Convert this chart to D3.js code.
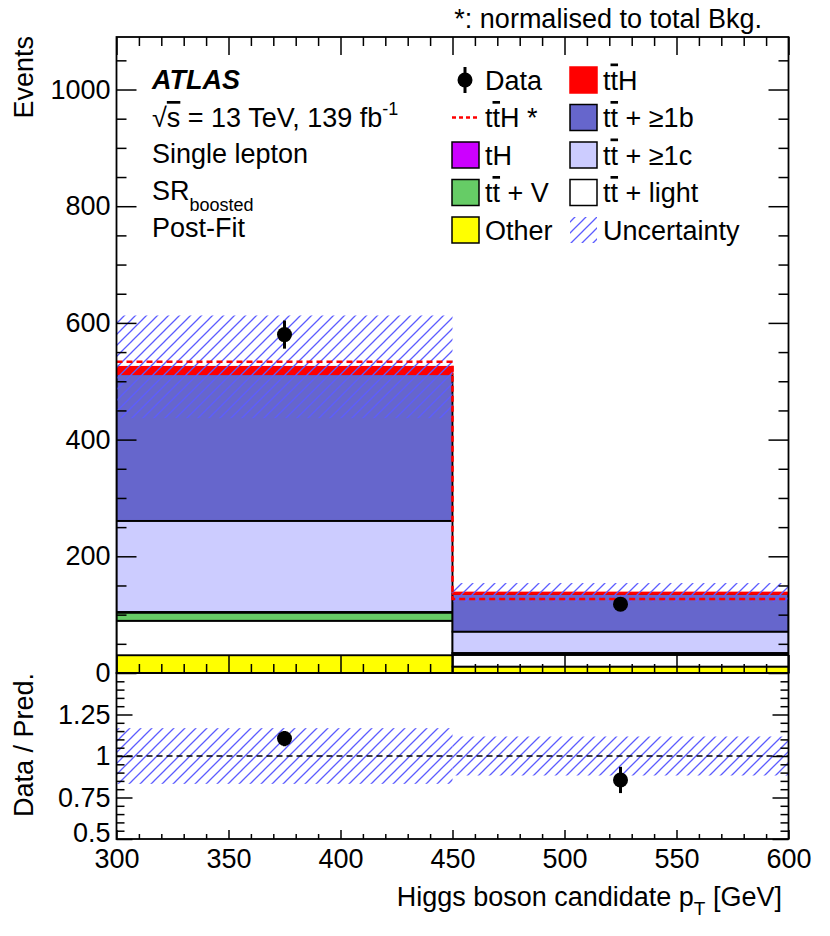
<!DOCTYPE html>
<html><head><meta charset="utf-8">
<script src="https://cdn.jsdelivr.net/npm/d3@7"></script>
<style>
body{margin:0;background:#fff}
svg{display:block}
text{font-family:"Liberation Sans",Arial,Helvetica,sans-serif;fill:#000}
</style>
</head><body>
<svg id="c" width="830" height="936"></svg>
<script>
// ---------------- data ----------------
const binEdges = [300, 450, 600];
const binCenters = [375, 525];
const other   = [30.5, 11];
const ttLight = [59, 20];
const ttV     = [14, 3];
const tH      = [1.2, 0.4];
const tt1c    = [156, 36.5];
const tt1b    = [251.5, 64.5];
const ttH     = [12.5, 2.5];
const ttHnorm = [533.5, 126.8];
const dataVals = [580, 118];
const dataErr  = [24.1, 10.9];
const uncert   = [88, 16.2];
const mainYTicks  = [0, 200, 400, 600, 800, 1000];
const ratioYTicks = [0.5, 0.75, 1, 1.25];
const xTicks      = [300, 350, 400, 450, 500, 550, 600];

const layerKeys   = ["other", "ttLight", "ttV", "tH", "tt1c", "tt1b", "ttH"];
const layerVals   = {other, ttLight, ttV, tH, tt1c, tt1b, ttH};
const layerFill   = {other:"#ffff00", ttLight:"#ffffff", ttV:"#66cc66", tH:"#cc00ff", tt1c:"#ccccff", tt1b:"#6666cc", ttH:"#ff0000"};
const layerStroke = {other:"#000", ttLight:"#000", ttV:"#000", tH:"#000", tt1c:"#000", tt1b:"#000", ttH:"#ff0000"};

// ---------------- layout ----------------
const svg = d3.select("#c");
const X0 = 116.5, X1 = 788.5, YT = 37, YM = 673, YB = 839;
const x  = d3.scaleLinear().domain([300, 600]).range([X0, X1]);
const y  = d3.scaleLinear().domain([0, 1090]).range([YM, YT]);
const yr = d3.scaleLinear().domain([0.5, 1.5]).range([YB, YM]);
const FONT = 27;

const defs = svg.append("defs");
const pat = defs.append("pattern").attr("id","hatch").attr("patternUnits","userSpaceOnUse")
  .attr("width",11).attr("height",11);
pat.append("path").attr("d","M-1,1 L1,-1 M0,11 L11,0 M10,12 L12,10")
  .attr("stroke","#5c5cff").attr("stroke-width",1.3);
defs.append("clipPath").attr("id","clipMain").append("rect")
  .attr("x",X0).attr("y",YT).attr("width",X1-X0).attr("height",YM-YT);
defs.append("clipPath").attr("id","clipRatio").append("rect")
  .attr("x",X0).attr("y",YM).attr("width",X1-X0).attr("height",YB-YM);

// ---------------- stack ----------------
const rows = binCenters.map((c,i) => {
  const r = {i};
  layerKeys.forEach(k => r[k] = layerVals[k][i]);
  return r;
});
const stacked = d3.stack().keys(layerKeys)(rows);
const pred = rows.map(r => d3.sum(layerKeys, k => r[k]));

const gMain = svg.append("g").attr("clip-path","url(#clipMain)");
stacked.forEach(layer => {
  gMain.selectAll(null).data(layer).enter().append("rect")
    .attr("x", (d,i) => x(binEdges[i]))
    .attr("width", (d,i) => x(binEdges[i+1]) - x(binEdges[i]))
    .attr("y", d => y(d[1]))
    .attr("height", d => y(d[0]) - y(d[1]))
    .attr("fill", layerFill[layer.key])
    .attr("stroke", layerStroke[layer.key])
    .attr("stroke-width", 1.8);
});

// uncertainty band (main)
gMain.selectAll(null).data(pred).enter().append("rect")
  .attr("x", (d,i) => x(binEdges[i]))
  .attr("width", (d,i) => x(binEdges[i+1]) - x(binEdges[i]))
  .attr("y", (d,i) => y(d + uncert[i]))
  .attr("height", (d,i) => y(d - uncert[i]) - y(d + uncert[i]))
  .attr("fill","url(#hatch)");

// ttH normalised (dashed step)
const stepPts = [];
ttHnorm.forEach((v,i) => { stepPts.push([binEdges[i], v]); stepPts.push([binEdges[i+1], v]); });
gMain.append("path")
  .attr("d", d3.line().x(d => x(d[0])).y(d => y(d[1])).curve(d3.curveLinear)(stepPts))
  .attr("fill","none").attr("stroke","#ff0000").attr("stroke-width",2.6).attr("stroke-dasharray","6,4");

// data points (main)
const R = 7.5;
binCenters.forEach((c,i) => {
  gMain.append("line").attr("x1",x(c)).attr("x2",x(c))
    .attr("y1",y(dataVals[i]-dataErr[i])).attr("y2",y(dataVals[i]+dataErr[i]))
    .attr("stroke","#000").attr("stroke-width",3);
  gMain.append("circle").attr("cx",x(c)).attr("cy",y(dataVals[i])).attr("r",R).attr("fill","#000");
});

// ---------------- ratio ----------------
const gRat = svg.append("g").attr("clip-path","url(#clipRatio)");
gRat.selectAll(null).data(pred).enter().append("rect")
  .attr("x", (d,i) => x(binEdges[i]))
  .attr("width", (d,i) => x(binEdges[i+1]) - x(binEdges[i]))
  .attr("y", (d,i) => yr(1 + uncert[i]/d))
  .attr("height", (d,i) => yr(1 - uncert[i]/d) - yr(1 + uncert[i]/d))
  .attr("fill","url(#hatch)");
gRat.append("line").attr("x1",X0).attr("x2",X1).attr("y1",yr(1)).attr("y2",yr(1))
  .attr("stroke","#000").attr("stroke-width",1.3).attr("stroke-dasharray","6,4");
binCenters.forEach((c,i) => {
  const rv = dataVals[i]/pred[i], re = dataErr[i]/pred[i];
  gRat.append("line").attr("x1",x(c)).attr("x2",x(c))
    .attr("y1",yr(rv-re)).attr("y2",yr(rv+re)).attr("stroke","#000").attr("stroke-width",3);
  gRat.append("circle").attr("cx",x(c)).attr("cy",yr(rv)).attr("r",R).attr("fill","#000");
});

// ---------------- axes ----------------
function styleAxis(g, labels){
  g.select(".domain").remove();
  g.selectAll(".tick line").attr("stroke","#000").attr("stroke-width",1.5);
  g.selectAll("text").style("font-size", FONT+"px")
    .style("font-family","'Liberation Sans',Arial,Helvetica,sans-serif").attr("fill","#000");
  if(!labels) g.selectAll("text").remove();
}
const xMinor = d3.range(300, 601, 10).filter(v => v % 50 !== 0);
const yMinor = d3.range(0, 1090, 50).filter(v => v % 200 !== 0);
const rMinor = d3.range(0.5, 1.5001, 0.05).map(v => +v.toFixed(2)).filter(v => Math.abs(v*4 - Math.round(v*4)) > 1e-6);
const fmt = d => String(d);

// main x: bottom & top (no labels)
styleAxis(svg.append("g").attr("transform",`translate(0,${YM})`).call(d3.axisBottom(x).tickValues(xTicks).tickSize(-18)), false);
styleAxis(svg.append("g").attr("transform",`translate(0,${YM})`).call(d3.axisBottom(x).tickValues(xMinor).tickSize(-9)), false);
styleAxis(svg.append("g").attr("transform",`translate(0,${YT})`).call(d3.axisTop(x).tickValues(xTicks).tickSize(-18)), false);
styleAxis(svg.append("g").attr("transform",`translate(0,${YT})`).call(d3.axisTop(x).tickValues(xMinor).tickSize(-9)), false);
// main y
styleAxis(svg.append("g").attr("transform",`translate(${X0},0)`).call(d3.axisLeft(y).tickValues(mainYTicks).tickSize(-20).tickPadding(6).tickFormat(fmt)), true);
styleAxis(svg.append("g").attr("transform",`translate(${X0},0)`).call(d3.axisLeft(y).tickValues(yMinor).tickSize(-10)), false);
styleAxis(svg.append("g").attr("transform",`translate(${X1},0)`).call(d3.axisRight(y).tickValues(mainYTicks).tickSize(-20)), false);
styleAxis(svg.append("g").attr("transform",`translate(${X1},0)`).call(d3.axisRight(y).tickValues(yMinor).tickSize(-10)), false);
// ratio x
styleAxis(svg.append("g").attr("transform",`translate(0,${YB})`).call(d3.axisBottom(x).tickValues(xTicks).tickSize(-9).tickPadding(10).tickFormat(fmt)), true);
styleAxis(svg.append("g").attr("transform",`translate(0,${YB})`).call(d3.axisBottom(x).tickValues(xMinor).tickSize(-5)), false);
// ratio y
const ry = svg.append("g").attr("transform",`translate(${X0},0)`).call(d3.axisLeft(yr).tickValues(ratioYTicks).tickSize(-16).tickPadding(6).tickFormat(fmt));
styleAxis(ry, true);
ry.selectAll(".tick").filter(d => d === 0.5).select("text").attr("dy","0.1em");
styleAxis(svg.append("g").attr("transform",`translate(${X0},0)`).call(d3.axisLeft(yr).tickValues(rMinor).tickSize(-8)), false);
styleAxis(svg.append("g").attr("transform",`translate(${X1},0)`).call(d3.axisRight(yr).tickValues(ratioYTicks).tickSize(-16)), false);
styleAxis(svg.append("g").attr("transform",`translate(${X1},0)`).call(d3.axisRight(yr).tickValues(rMinor).tickSize(-8)), false);

// frames
svg.append("rect").attr("x",X0).attr("y",YT).attr("width",X1-X0).attr("height",YM-YT)
  .attr("fill","none").attr("stroke","#000").attr("stroke-width",1.8);
svg.append("rect").attr("x",X0).attr("y",YM).attr("width",X1-X0).attr("height",YB-YM)
  .attr("fill","none").attr("stroke","#000").attr("stroke-width",1.8);

// axis titles
svg.append("text").attr("transform","translate(33,36) rotate(-90)").attr("text-anchor","end")
  .style("font-size",FONT+"px").text("Events");
svg.append("text").attr("transform",`translate(33,${YM}) rotate(-90)`).attr("text-anchor","end")
  .style("font-size",FONT+"px").text("Data / Pred.");
const xt = svg.append("text").attr("x",782).attr("y",906).attr("text-anchor","end").style("font-size",FONT+"px");
xt.append("tspan").text("Higgs boson candidate p");
xt.append("tspan").attr("dy",9).style("font-size","19px").text("T");
xt.append("tspan").attr("dy",-9).text(" [GeV]");

svg.append("text").attr("x",762).attr("y",28).attr("text-anchor","end").style("font-size",FONT+"px")
  .text("*: normalised to total Bkg.");

// ---------------- annotations ----------------
const LX = 152;
svg.append("text").attr("x",LX).attr("y",89).style("font-size",FONT+"px")
  .style("font-weight","bold").style("font-style","italic").text("ATLAS");
const t2 = svg.append("text").attr("x",LX).attr("y",127).style("font-size",FONT+"px");
t2.append("tspan").text("√");
t2.append("tspan").style("text-decoration","overline").text("s");
t2.append("tspan").text(" = 13 TeV, 139 fb");
t2.append("tspan").attr("dy",-12).style("font-size","18px").text("-1");
svg.append("text").attr("x",LX).attr("y",163).style("font-size",FONT+"px").text("Single lepton");
const t4 = svg.append("text").attr("x",LX).attr("y",200).style("font-size",FONT+"px");
t4.append("tspan").text("SR");
t4.append("tspan").attr("dy",11).style("font-size","18px").text("boosted");
svg.append("text").attr("x",LX).attr("y",237).style("font-size",FONT+"px").text("Post-Fit");

// ---------------- legend ----------------
const rowY = [80, 117.5, 155, 192.5, 230];
const colBox = [452, 570], colText = [485, 603];
function ttLabel(g, xx, yy, pre, suffix){
  const t = g.append("text").attr("x",xx).attr("y",yy+9.5).style("font-size",FONT+"px");
  t.append("tspan").text(pre);
  if (suffix !== undefined){
    t.append("tspan").style("text-decoration","overline").text("t");
    t.append("tspan").text(suffix);
  }
  return t;
}
const leg = svg.append("g");
// Data
leg.append("line").attr("x1",465).attr("x2",465).attr("y1",rowY[0]-13).attr("y2",rowY[0]+13).attr("stroke","#000").attr("stroke-width",3);
leg.append("circle").attr("cx",465).attr("cy",rowY[0]).attr("r",R).attr("fill","#000");
ttLabel(leg, colText[0], rowY[0], "Data");
// ttH*
leg.append("line").attr("x1",452).attr("x2",480).attr("y1",rowY[1]).attr("y2",rowY[1])
  .attr("stroke","#ff0000").attr("stroke-width",2.6).attr("stroke-dasharray","4,3");
ttLabel(leg, colText[0], rowY[1], "t", "H *");
const boxes = [
  [0,2,"tH",null,"tH"],[0,3,"ttV","t"," + V"],[0,4,"other","Other",null],
  [1,0,"ttH","t","H"],[1,1,"tt1b","t"," + ≥1b"],[1,2,"tt1c","t"," + ≥1c"],[1,3,"ttLight","t"," + light"]
];
boxes.forEach(([c,r,key,pre,suf]) => {
  leg.append("rect").attr("x",colBox[c]).attr("y",rowY[r]-13).attr("width",27).attr("height",26)
    .attr("fill",layerFill[key]).attr("stroke", key==="ttH" ? "#ff0000" : "#000").attr("stroke-width",1.5);
  if (key==="tH") ttLabel(leg, colText[c], rowY[r], "tH");
  else if (key==="other") ttLabel(leg, colText[c], rowY[r], "Other");
  else ttLabel(leg, colText[c], rowY[r], pre, suf);
});
leg.append("rect").attr("x",colBox[1]).attr("y",rowY[4]-13).attr("width",27).attr("height",26).attr("fill","url(#hatch)");
ttLabel(leg, colText[1], rowY[4], "Uncertainty");
</script>
</body></html>
